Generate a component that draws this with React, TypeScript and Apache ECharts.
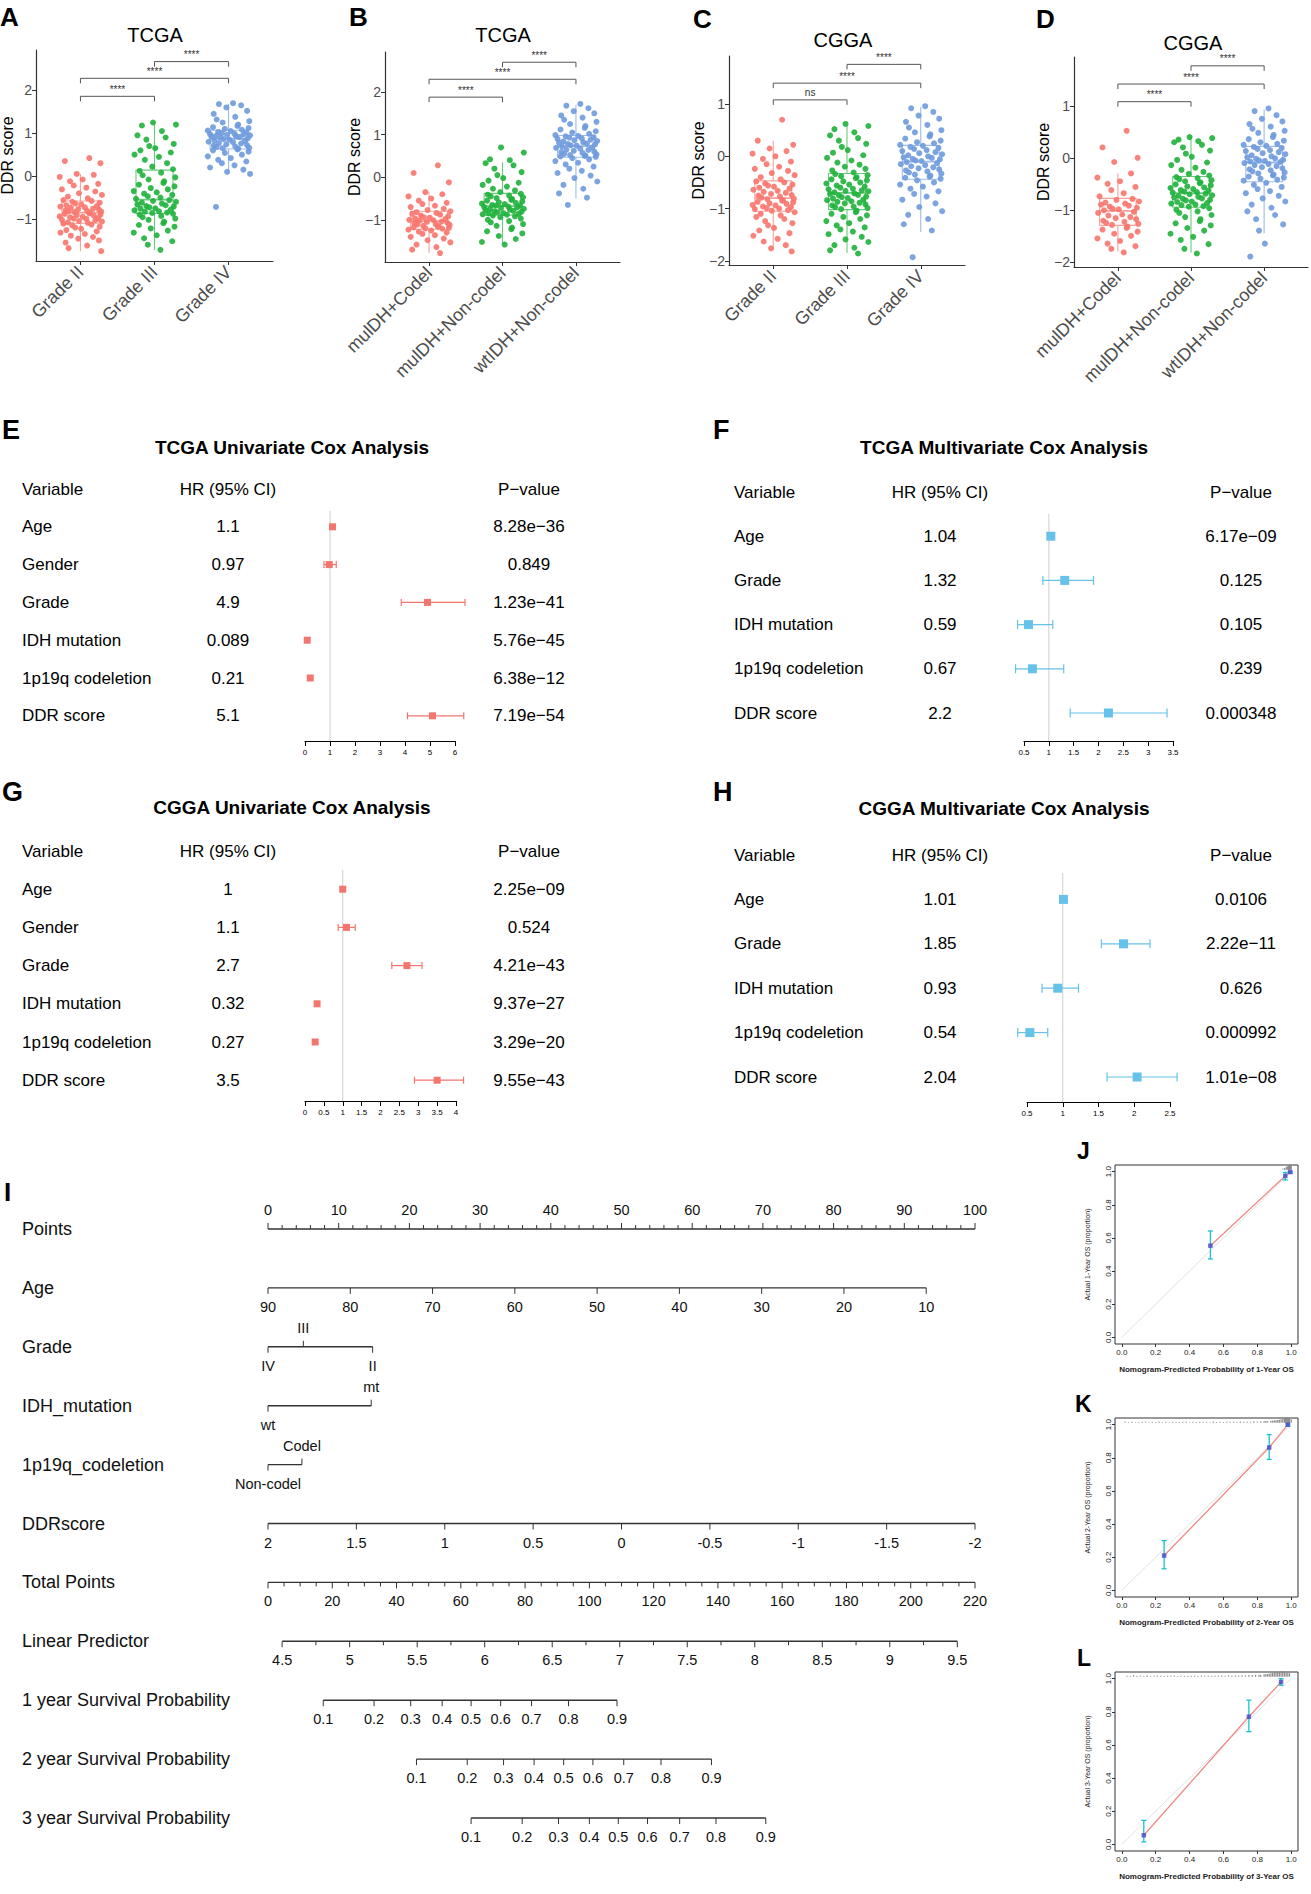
import React, { useEffect, useRef } from "react";
import * as echarts from "echarts";

const FONT = "'Liberation Sans', Arial, Helvetica, sans-serif";

/* ================= A–D : DDR score by group ================= */
const GRADE_CATEGORIES = ["Grade II", "Grade III", "Grade IV"];
const SUBTYPE_CATEGORIES = ["mulDH+Codel", "mulDH+Non-codel", "wtIDH+Non-codel"];
const GROUP_COLORS = ["#F8766D", "#1FB13C", "#6E9ADD"];
const BOX_LINE_COLORS = ["#F7A29B", "#6ACB7C", "#9CBBE9"];
const TICKS_TCGA = [-1, 0, 1, 2];
const TICKS_CGGA = [-2, -1, 0, 1];
const JITTER = [0.12, -0.21, 0.27, -0.05, 0.18, -0.28, 0.03, -0.14, 0.24, -0.09, 0.08, -0.25, 0.2, -0.02, 0.29, -0.17, 0.1, -0.23, 0.15, -0.11, 0.26, -0.07, 0.01, -0.19, 0.22, -0.27, 0.06, -0.13, 0.17, -0.03, 0.25, -0.2, 0.09, -0.16, 0.28, -0.08, 0.13];

// A: TCGA by grade
const TCGA_GRADE_II = [0.42, 0.35, 0.3, 0.05, 0.03, -0.02, -0.08, -0.12, -0.18, -0.22, -0.27, -0.31, -0.36, -0.4, -0.44, -0.48, -0.52, -0.56, -0.58, -0.6, -0.62, -0.64, -0.66, -0.68, -0.7, -0.71, -0.73, -0.74, -0.76, -0.77, -0.78, -0.8, -0.81, -0.82, -0.83, -0.84, -0.86, -0.87, -0.88, -0.9, -0.91, -0.92, -0.94, -0.95, -0.96, -0.98, -0.99, -1.0, -1.02, -1.03, -1.05, -1.06, -1.08, -1.09, -1.11, -1.13, -1.15, -1.18, -1.2, -1.23, -1.26, -1.29, -1.32, -1.35, -1.39, -1.42, -1.46, -1.5, -1.55, -1.62, -1.68, -1.75];
const TCGA_GRADE_III = [1.25, 1.2, 1.18, 1.05, 0.95, 0.9, 0.85, 0.75, 0.7, 0.65, 0.6, 0.55, 0.5, 0.45, 0.38, 0.3, 0.22, 0.16, 0.12, 0.08, 0.02, -0.03, -0.08, -0.12, -0.16, -0.2, -0.24, -0.28, -0.31, -0.35, -0.38, -0.41, -0.44, -0.47, -0.5, -0.53, -0.56, -0.58, -0.6, -0.62, -0.64, -0.66, -0.68, -0.7, -0.71, -0.73, -0.75, -0.76, -0.78, -0.8, -0.82, -0.83, -0.85, -0.86, -0.88, -0.9, -0.93, -0.96, -0.99, -1.02, -1.06, -1.1, -1.14, -1.18, -1.22, -1.27, -1.32, -1.38, -1.45, -1.52, -1.6, -1.72];
const TCGA_GRADE_IV = [1.7, 1.68, 1.65, 1.6, 1.52, 1.45, 1.38, 1.32, 1.28, 1.25, 1.2, 1.17, 1.14, 1.12, 1.1, 1.08, 1.06, 1.05, 1.03, 1.02, 1.0, 0.99, 0.98, 0.97, 0.96, 0.95, 0.94, 0.93, 0.92, 0.91, 0.9, 0.88, 0.86, 0.85, 0.83, 0.82, 0.8, 0.79, 0.77, 0.76, 0.74, 0.72, 0.71, 0.69, 0.68, 0.66, 0.65, 0.64, 0.62, 0.6, 0.57, 0.54, 0.5, 0.46, 0.42, 0.38, 0.34, 0.3, 0.25, 0.2, 0.15, 0.1, 0.05, -0.72];
// B: TCGA by subtype
const TCGA_SUB_CODEL = [0.28, 0.1, -0.12, -0.35, -0.4, -0.45, -0.5, -0.55, -0.6, -0.63, -0.67, -0.7, -0.74, -0.77, -0.8, -0.82, -0.84, -0.86, -0.88, -0.9, -0.92, -0.94, -0.95, -0.97, -0.98, -1.0, -1.01, -1.02, -1.04, -1.05, -1.07, -1.08, -1.1, -1.11, -1.12, -1.14, -1.15, -1.16, -1.18, -1.19, -1.2, -1.21, -1.23, -1.25, -1.28, -1.3, -1.33, -1.36, -1.4, -1.44, -1.48, -1.53, -1.58, -1.64, -1.7, -1.78];
const TCGA_SUB_MUT_NONCODEL = [0.7, 0.58, 0.42, 0.4, 0.33, 0.28, 0.2, 0.12, 0.05, -0.02, -0.08, -0.13, -0.18, -0.22, -0.27, -0.31, -0.35, -0.39, -0.41, -0.43, -0.45, -0.47, -0.49, -0.51, -0.53, -0.55, -0.57, -0.59, -0.6, -0.62, -0.63, -0.65, -0.66, -0.67, -0.69, -0.7, -0.71, -0.72, -0.74, -0.75, -0.76, -0.77, -0.79, -0.8, -0.81, -0.82, -0.84, -0.85, -0.86, -0.87, -0.88, -0.9, -0.92, -0.94, -0.97, -1.0, -1.03, -1.06, -1.1, -1.14, -1.18, -1.22, -1.27, -1.32, -1.38, -1.45, -1.52, -1.58];
const TCGA_SUB_WT_NONCODEL = [1.72, 1.68, 1.62, 1.55, 1.5, 1.45, 1.4, 1.35, 1.3, 1.25, 1.2, 1.16, 1.12, 1.08, 1.05, 1.02, 0.99, 0.97, 0.96, 0.94, 0.93, 0.91, 0.9, 0.88, 0.87, 0.85, 0.84, 0.82, 0.81, 0.79, 0.78, 0.77, 0.75, 0.74, 0.72, 0.7, 0.69, 0.67, 0.65, 0.64, 0.62, 0.6, 0.59, 0.57, 0.55, 0.54, 0.52, 0.51, 0.5, 0.49, 0.48, 0.45, 0.42, 0.38, 0.34, 0.3, 0.25, 0.2, 0.15, 0.1, 0.04, -0.02, -0.1, -0.18, -0.27, -0.38, -0.48, -0.65];
// C: CGGA by grade
const CGGA_GRADE_II = [0.7, 0.3, 0.22, 0.15, 0.1, 0.05, 0.0, -0.05, -0.1, -0.15, -0.2, -0.24, -0.28, -0.32, -0.36, -0.4, -0.44, -0.48, -0.5, -0.52, -0.54, -0.56, -0.58, -0.6, -0.62, -0.64, -0.66, -0.68, -0.7, -0.72, -0.74, -0.75, -0.77, -0.79, -0.81, -0.82, -0.84, -0.85, -0.87, -0.88, -0.9, -0.91, -0.93, -0.94, -0.96, -0.97, -0.99, -1.0, -1.01, -1.03, -1.04, -1.07, -1.1, -1.13, -1.16, -1.2, -1.24, -1.28, -1.32, -1.37, -1.42, -1.47, -1.52, -1.58, -1.63, -1.7, -1.76, -1.82];
const CGGA_GRADE_III = [0.62, 0.58, 0.52, 0.46, 0.4, 0.35, 0.3, 0.24, 0.18, 0.12, 0.07, 0.02, -0.03, -0.08, -0.12, -0.16, -0.2, -0.24, -0.27, -0.31, -0.34, -0.36, -0.38, -0.4, -0.42, -0.44, -0.46, -0.48, -0.5, -0.52, -0.54, -0.56, -0.58, -0.6, -0.62, -0.63, -0.65, -0.66, -0.67, -0.69, -0.71, -0.72, -0.74, -0.75, -0.77, -0.78, -0.8, -0.81, -0.83, -0.84, -0.86, -0.87, -0.89, -0.9, -0.92, -0.94, -0.96, -0.97, -0.99, -1.01, -1.04, -1.07, -1.1, -1.13, -1.16, -1.2, -1.24, -1.28, -1.32, -1.36, -1.4, -1.44, -1.49, -1.54, -1.59, -1.64, -1.7, -1.75, -1.8, -1.86];
const CGGA_GRADE_IV = [0.96, 0.92, 0.85, 0.78, 0.72, 0.66, 0.6, 0.55, 0.5, 0.46, 0.42, 0.38, 0.34, 0.3, 0.27, 0.25, 0.22, 0.2, 0.18, 0.16, 0.14, 0.12, 0.1, 0.08, 0.06, 0.04, 0.02, 0.0, -0.02, -0.03, -0.05, -0.06, -0.08, -0.09, -0.11, -0.13, -0.15, -0.17, -0.19, -0.21, -0.23, -0.25, -0.27, -0.29, -0.31, -0.33, -0.35, -0.37, -0.39, -0.41, -0.43, -0.46, -0.5, -0.54, -0.58, -0.62, -0.67, -0.72, -0.77, -0.83, -0.9, -0.97, -1.05, -1.12, -1.2, -1.3, -1.42, -1.93];
// D: CGGA by subtype
const CGGA_SUB_CODEL = [0.52, 0.2, 0.0, -0.08, -0.3, -0.38, -0.45, -0.5, -0.56, -0.62, -0.68, -0.74, -0.79, -0.81, -0.84, -0.86, -0.88, -0.9, -0.92, -0.94, -0.96, -0.98, -0.99, -1.01, -1.04, -1.06, -1.09, -1.11, -1.14, -1.16, -1.18, -1.21, -1.23, -1.25, -1.27, -1.29, -1.32, -1.35, -1.38, -1.42, -1.46, -1.5, -1.55, -1.6, -1.65, -1.7, -1.75, -1.82];
const CGGA_SUB_MUT_NONCODEL = [0.4, 0.38, 0.35, 0.32, 0.3, 0.25, 0.2, 0.14, 0.08, 0.02, -0.04, -0.09, -0.14, -0.19, -0.23, -0.27, -0.31, -0.34, -0.37, -0.39, -0.41, -0.43, -0.45, -0.47, -0.49, -0.51, -0.53, -0.55, -0.57, -0.58, -0.6, -0.62, -0.63, -0.65, -0.66, -0.67, -0.69, -0.7, -0.72, -0.73, -0.75, -0.76, -0.78, -0.79, -0.81, -0.82, -0.84, -0.85, -0.87, -0.88, -0.9, -0.91, -0.93, -0.94, -0.97, -1.0, -1.03, -1.06, -1.1, -1.14, -1.18, -1.22, -1.26, -1.3, -1.35, -1.4, -1.46, -1.52, -1.58, -1.66, -1.75, -1.84];
const CGGA_SUB_WT_NONCODEL = [0.95, 0.9, 0.82, 0.75, 0.7, 0.65, 0.6, 0.56, 0.52, 0.48, 0.44, 0.4, 0.36, 0.33, 0.3, 0.27, 0.25, 0.23, 0.21, 0.19, 0.17, 0.15, 0.13, 0.11, 0.09, 0.07, 0.05, 0.03, 0.01, -0.01, -0.02, -0.04, -0.05, -0.06, -0.07, -0.08, -0.1, -0.12, -0.14, -0.16, -0.18, -0.2, -0.22, -0.24, -0.26, -0.28, -0.3, -0.32, -0.34, -0.36, -0.38, -0.4, -0.42, -0.44, -0.48, -0.52, -0.56, -0.6, -0.64, -0.68, -0.73, -0.78, -0.84, -0.9, -0.96, -1.03, -1.1, -1.18, -1.28, -1.4, -1.65, -1.9];

// box stats: [lower whisker, Q1, median, Q3, upper whisker]
const TCGA_GRADE_BOX = [[-1.75, -1.1, -0.85, -0.58, 0.05], [-1.72, -0.87, -0.55, 0.14, 1.22], [0.05, 0.63, 0.87, 1.07, 1.68]];
const TCGA_SUB_BOX = [[-1.78, -1.22, -1.03, -0.8, -0.35], [-1.55, -0.89, -0.68, -0.38, 0.35], [-0.5, 0.47, 0.73, 0.98, 1.7]];
const CGGA_GRADE_BOX = [[-1.8, -1.05, -0.8, -0.47, 0.3], [-1.85, -1.02, -0.7, -0.33, 0.6], [-1.45, -0.44, -0.1, 0.21, 0.95]];
const CGGA_SUB_BOX = [[-1.8, -1.3, -1.02, -0.78, -0.3], [-1.82, -0.95, -0.68, -0.36, 0.4], [-1.45, -0.46, -0.09, 0.22, 0.93]];

// significance brackets: [from group, to group, height]
const TCGA_GRADE_BRACKETS = [[1, 2, 1.86], [1, 3, 2.28], [2, 3, 2.67]];
const TCGA_SUB_BRACKETS = [[1, 2, 1.88], [1, 3, 2.3], [2, 3, 2.7]];
const CGGA_GRADE_BRACKETS = [[1, 2, 1.08], [1, 3, 1.4], [2, 3, 1.76]];
const CGGA_SUB_BRACKETS = [[1, 2, 1.08], [1, 3, 1.42], [2, 3, 1.77]];
const TCGA_GRADE_SIG = ["****", "****", "****"];
const TCGA_SUB_SIG = ["****", "****", "****"];
const CGGA_GRADE_SIG = ["ns", "****", "****"];
const CGGA_SUB_SIG = ["****", "****", "****"];

/* ================= E–H : Cox forest plots ================= */
const UNI_VARS = ["Age", "Gender", "Grade", "IDH mutation", "1p19q codeletion", "DDR score"];
const MULTI_VARS = ["Age", "Grade", "IDH mutation", "1p19q codeletion", "DDR score"];
const TABLE_HEADER = ["Variable", "HR (95% CI)", "P\u2212value"];

const TCGA_UNI_HR_TEXT = ["1.1", "0.97", "4.9", "0.089", "0.21", "5.1"];
const TCGA_UNI_HR = [1.1, 0.97, 4.9, 0.089, 0.21, 5.1];
const TCGA_UNI_LO = [1.08, 0.76, 3.85, 0.065, 0.16, 4.1];
const TCGA_UNI_HI = [1.12, 1.25, 6.4, 0.12, 0.28, 6.35];
const TCGA_UNI_P = ["8.28e\u221236", "0.849", "1.23e\u221241", "5.76e\u221245", "6.38e\u221212", "7.19e\u221254"];
const TCGA_UNI_AXIS = [0, 6, 1];

const TCGA_MULTI_HR_TEXT = ["1.04", "1.32", "0.59", "0.67", "2.2"];
const TCGA_MULTI_HR = [1.04, 1.32, 0.59, 0.67, 2.2];
const TCGA_MULTI_LO = [1.03, 0.88, 0.37, 0.33, 1.43];
const TCGA_MULTI_HI = [1.05, 1.9, 1.08, 1.3, 3.38];
const TCGA_MULTI_P = ["6.17e\u221209", "0.125", "0.105", "0.239", "0.000348"];
const TCGA_MULTI_AXIS = [0.5, 3.5, 0.5];

const CGGA_UNI_HR_TEXT = ["1", "1.1", "2.7", "0.32", "0.27", "3.5"];
const CGGA_UNI_HR = [1.0, 1.1, 2.7, 0.32, 0.27, 3.5];
const CGGA_UNI_LO = [0.99, 0.88, 2.3, 0.27, 0.22, 2.9];
const CGGA_UNI_HI = [1.01, 1.33, 3.1, 0.38, 0.33, 4.2];
const CGGA_UNI_P = ["2.25e\u221209", "0.524", "4.21e\u221243", "9.37e\u221227", "3.29e\u221220", "9.55e\u221243"];
const CGGA_UNI_AXIS = [0, 4, 0.5];

const CGGA_MULTI_HR_TEXT = ["1.01", "1.85", "0.93", "0.54", "2.04"];
const CGGA_MULTI_HR = [1.01, 1.85, 0.93, 0.54, 2.04];
const CGGA_MULTI_LO = [1.0, 1.54, 0.71, 0.37, 1.62];
const CGGA_MULTI_HI = [1.02, 2.22, 1.22, 0.79, 2.6];
const CGGA_MULTI_P = ["0.0106", "2.22e\u221211", "0.626", "0.000992", "1.01e\u221208"];
const CGGA_MULTI_AXIS = [0.5, 2.5, 0.5];

/* ================= I : nomogram ================= */
const NOMO_LABELS = ["Points", "Age", "Grade", "IDH_mutation", "1p19q_codeletion", "DDRscore", "Total Points", "Linear Predictor", "1 year Survival Probability", "2 year Survival Probability", "3 year Survival Probability"];
const POINTS_TICKS = [0, 10, 20, 30, 40, 50, 60, 70, 80, 90, 100];
const AGE_TICKS = [90, 80, 70, 60, 50, 40, 30, 20, 10];
const AGE_RANGE = [90, 10];
const AGE_POINTS = [0, 93.1];
const GRADE_LEVELS = ["IV", "III", "II"];
const GRADE_POINTS = [0, 5.0, 14.8];
const GRADE_ABOVE = [false, true, false];
const IDH_LEVELS = ["wt", "mt"];
const IDH_POINTS = [0, 14.6];
const IDH_ABOVE = [false, true];
const CODEL_LEVELS = ["Non-codel", "Codel"];
const CODEL_POINTS = [0, 4.8];
const CODEL_ABOVE = [false, true];
const DDR_TICKS = [2, 1.5, 1, 0.5, 0, -0.5, -1, -1.5, -2];
const DDR_RANGE = [2, -2];
const DDR_POINTS = [0, 100];
const TOTAL_TICKS = [0, 20, 40, 60, 80, 100, 120, 140, 160, 180, 200, 220];
const TOTAL_MAX = 220;
const LP_TICKS = [4.5, 5, 5.5, 6, 6.5, 7, 7.5, 8, 8.5, 9, 9.5];
const LP_RANGE = [4.5, 9.5];
const LP_TOTAL = [4.4, 214.5];
const SURV_TICKS = [0.1, 0.2, 0.3, 0.4, 0.5, 0.6, 0.7, 0.8, 0.9];
const SURV1_TOTAL = [17.2, 33, 44.4, 54.2, 63.2, 72.4, 82, 93.5, 108.6];
const SURV2_TOTAL = [46.2, 62, 73.3, 82.8, 92, 101.1, 110.7, 122.3, 138];
const SURV3_TOTAL = [63.2, 79.1, 90.4, 100, 109, 118.1, 128.1, 139.4, 154.9];

/* ================= J–L : calibration ================= */
const CAL_TICKS = [0, 0.2, 0.4, 0.6, 0.8, 1.0];
const CAL1_PRED = [0.523, 0.965, 0.994];
const CAL1_OBS = [0.553, 0.974, 0.998];
const CAL1_LO = [0.473, 0.95, 0.99];
const CAL1_HI = [0.642, 0.995, 1.0];
const CAL1_RUG = [[0.95, 0.006], [0.96, 0.01], [0.97, 0.014], [0.975, 0.018], [0.98, 0.022], [0.985, 0.026], [0.99, 0.03], [0.995, 0.03], [1.0, 0.03]];
const CAL2_PRED = [0.25, 0.87, 0.98];
const CAL2_OBS = [0.21, 0.862, 1.0];
const CAL2_LO = [0.13, 0.79, 0.99];
const CAL2_HI = [0.3, 0.94, 1.005];
const CAL2_RUG = [[0.02, 0.005], [0.04, 0.004], [0.06, 0.006], [0.08, 0.003], [0.1, 0.004], [0.12, 0.005], [0.14, 0.006], [0.16, 0.003], [0.18, 0.005], [0.2, 0.004], [0.22, 0.007], [0.24, 0.004], [0.26, 0.005], [0.28, 0.003], [0.3, 0.006], [0.32, 0.004], [0.34, 0.004], [0.36, 0.005], [0.38, 0.006], [0.4, 0.003], [0.42, 0.005], [0.44, 0.004], [0.46, 0.006], [0.48, 0.004], [0.5, 0.005], [0.52, 0.003], [0.54, 0.007], [0.56, 0.004], [0.58, 0.005], [0.6, 0.004], [0.62, 0.006], [0.64, 0.005], [0.66, 0.006], [0.68, 0.004], [0.7, 0.007], [0.72, 0.005], [0.74, 0.006], [0.76, 0.005], [0.78, 0.008], [0.8, 0.006], [0.82, 0.008], [0.84, 0.009], [0.85, 0.01], [0.86, 0.009], [0.88, 0.012], [0.89, 0.011], [0.9, 0.014], [0.91, 0.015], [0.92, 0.016], [0.93, 0.018], [0.94, 0.02], [0.95, 0.024], [0.96, 0.028], [0.965, 0.03], [0.97, 0.03], [0.975, 0.032], [0.98, 0.03], [0.985, 0.03], [0.99, 0.028], [1.0, 0.02]];
const CAL3_PRED = [0.13, 0.75, 0.94];
const CAL3_OBS = [0.055, 0.77, 0.98];
const CAL3_LO = [0.015, 0.68, 0.96];
const CAL3_HI = [0.145, 0.87, 1.0];
const CAL3_RUG = [[0.03, 0.006], [0.05, 0.004], [0.07, 0.008], [0.09, 0.005], [0.11, 0.006], [0.13, 0.004], [0.15, 0.007], [0.17, 0.004], [0.19, 0.005], [0.21, 0.006], [0.23, 0.006], [0.25, 0.004], [0.27, 0.006], [0.29, 0.005], [0.31, 0.005], [0.33, 0.004], [0.35, 0.006], [0.37, 0.005], [0.39, 0.005], [0.41, 0.006], [0.43, 0.006], [0.45, 0.004], [0.47, 0.007], [0.49, 0.005], [0.51, 0.006], [0.53, 0.005], [0.55, 0.006], [0.57, 0.006], [0.59, 0.007], [0.61, 0.006], [0.63, 0.008], [0.65, 0.006], [0.67, 0.007], [0.69, 0.007], [0.71, 0.008], [0.73, 0.008], [0.75, 0.01], [0.77, 0.01], [0.79, 0.012], [0.81, 0.011], [0.82, 0.012], [0.84, 0.014], [0.85, 0.015], [0.86, 0.016], [0.87, 0.018], [0.88, 0.02], [0.89, 0.022], [0.9, 0.025], [0.91, 0.028], [0.92, 0.03], [0.93, 0.03], [0.94, 0.032], [0.95, 0.03], [0.96, 0.028], [0.97, 0.025], [0.98, 0.022], [0.99, 0.02]];

/* ================= layout ================= */
const BOX_PANELS = [
  { letter: "A", lx: 0, ly: 4, title: "TCGA", tx: 155, ty: 35, cats: GRADE_CATEGORIES, values: [TCGA_GRADE_II, TCGA_GRADE_III, TCGA_GRADE_IV], box: TCGA_GRADE_BOX, brackets: TCGA_GRADE_BRACKETS, sig: TCGA_GRADE_SIG, ticks: TICKS_TCGA, yMin: -1.98, yMax: 2.94, left: 36, top: 50, width: 237, height: 211, nameGap: 21 },
  { letter: "B", lx: 349, ly: 4, title: "TCGA", tx: 503, ty: 35, cats: SUBTYPE_CATEGORIES, values: [TCGA_SUB_CODEL, TCGA_SUB_MUT_NONCODEL, TCGA_SUB_WT_NONCODEL], box: TCGA_SUB_BOX, brackets: TCGA_SUB_BRACKETS, sig: TCGA_SUB_SIG, ticks: TICKS_TCGA, yMin: -1.99, yMax: 2.94, left: 385, top: 52, width: 235, height: 210, nameGap: 23 },
  { letter: "C", lx: 693, ly: 6, title: "CGGA", tx: 843, ty: 40, cats: GRADE_CATEGORIES, values: [CGGA_GRADE_II, CGGA_GRADE_III, CGGA_GRADE_IV], box: CGGA_GRADE_BOX, brackets: CGGA_GRADE_BRACKETS, sig: CGGA_GRADE_SIG, ticks: TICKS_CGGA, yMin: -2.08, yMax: 1.92, left: 729, top: 56, width: 236, height: 209, nameGap: 23 },
  { letter: "D", lx: 1036, ly: 6, title: "CGGA", tx: 1193, ty: 43, cats: SUBTYPE_CATEGORIES, values: [CGGA_SUB_CODEL, CGGA_SUB_MUT_NONCODEL, CGGA_SUB_WT_NONCODEL], box: CGGA_SUB_BOX, brackets: CGGA_SUB_BRACKETS, sig: CGGA_SUB_SIG, ticks: TICKS_CGGA, yMin: -2.1, yMax: 1.94, left: 1074, top: 57, width: 234, height: 210, nameGap: 23 },
];

const FOREST_PANELS = [
  { letter: "E", lx: 2, ly: 416, title: "TCGA Univariate Cox Analysis", tx: 292, ty: 447, vars: UNI_VARS, hrText: TCGA_UNI_HR_TEXT, hr: TCGA_UNI_HR, lo: TCGA_UNI_LO, hi: TCGA_UNI_HI, p: TCGA_UNI_P, axis: TCGA_UNI_AXIS, color: "#F3766E", size: 7, cap: 3.5, left: 305, right: 455, headerY: 489, step: 37.8, refTop: 511, axisY: 741, colVar: 22, colHr: 228, colP: 529 },
  { letter: "F", lx: 713, ly: 416, title: "TCGA Multivariate Cox Analysis", tx: 1004, ty: 447, vars: MULTI_VARS, hrText: TCGA_MULTI_HR_TEXT, hr: TCGA_MULTI_HR, lo: TCGA_MULTI_LO, hi: TCGA_MULTI_HI, p: TCGA_MULTI_P, axis: TCGA_MULTI_AXIS, color: "#66C2E8", size: 9, cap: 4.5, left: 1024, right: 1173, headerY: 492, step: 44.2, refTop: 514, axisY: 741, colVar: 734, colHr: 940, colP: 1241 },
  { letter: "G", lx: 2, ly: 778, title: "CGGA Univariate Cox Analysis", tx: 292, ty: 807, vars: UNI_VARS, hrText: CGGA_UNI_HR_TEXT, hr: CGGA_UNI_HR, lo: CGGA_UNI_LO, hi: CGGA_UNI_HI, p: CGGA_UNI_P, axis: CGGA_UNI_AXIS, color: "#F3766E", size: 7, cap: 3.5, left: 305, right: 456, headerY: 851, step: 38.2, refTop: 870, axisY: 1101, colVar: 22, colHr: 228, colP: 529 },
  { letter: "H", lx: 713, ly: 778, title: "CGGA Multivariate Cox Analysis", tx: 1004, ty: 808, vars: MULTI_VARS, hrText: CGGA_MULTI_HR_TEXT, hr: CGGA_MULTI_HR, lo: CGGA_MULTI_LO, hi: CGGA_MULTI_HI, p: CGGA_MULTI_P, axis: CGGA_MULTI_AXIS, color: "#66C2E8", size: 9, cap: 4.5, left: 1027, right: 1170, headerY: 855, step: 44.4, refTop: 873, axisY: 1102, colVar: 734, colHr: 940, colP: 1241 },
];

const CAL_PANELS = [
  { letter: "J", lx: 1077, ly: 1139, top: 1165, n: 1, pred: CAL1_PRED, obs: CAL1_OBS, lo: CAL1_LO, hi: CAL1_HI, rug: CAL1_RUG },
  { letter: "K", lx: 1075, ly: 1392, top: 1418, n: 2, pred: CAL2_PRED, obs: CAL2_OBS, lo: CAL2_LO, hi: CAL2_HI, rug: CAL2_RUG },
  { letter: "L", lx: 1077, ly: 1646, top: 1672, n: 3, pred: CAL3_PRED, obs: CAL3_OBS, lo: CAL3_LO, hi: CAL3_HI, rug: CAL3_RUG },
];

const minusFmt = (v: number) => (v < 0 ? "\u2212" + String(Math.abs(v)) : String(v));

function txt(x: number, y: number, text: string, size: number, align = "center", va = "middle", color = "#000", weight = "normal") {
  return {
    type: "text",
    x,
    y,
    silent: true,
    style: { text, fontSize: size, fontFamily: FONT, fontWeight: weight, fill: color, textAlign: align, textVerticalAlign: va, align, verticalAlign: va },
  };
}

function nomogramRows() {
  const lin = (v: number, r: number[], p: number[]) => p[0] + ((v - r[0]) / (r[1] - r[0])) * (p[1] - p[0]);
  const tp = (t: number) => (t * 100) / TOTAL_MAX;
  const rows: any[] = [];
  const pts: any[] = POINTS_TICKS.map((v) => ({ pos: v, label: String(v), up: true, len: 6 }));
  for (let k = 0; k <= 100; k += 2) if (k % 10 !== 0) pts.push({ pos: k, up: true, len: 4 });
  rows.push(pts);
  rows.push(AGE_TICKS.map((v) => ({ pos: lin(v, AGE_RANGE, AGE_POINTS), label: String(v), up: false, len: 6 })));
  rows.push(GRADE_LEVELS.map((l, i) => ({ pos: GRADE_POINTS[i], label: l, up: GRADE_ABOVE[i], len: 6 })));
  rows.push(IDH_LEVELS.map((l, i) => ({ pos: IDH_POINTS[i], label: l, up: IDH_ABOVE[i], len: 6 })));
  rows.push(CODEL_LEVELS.map((l, i) => ({ pos: CODEL_POINTS[i], label: l, up: CODEL_ABOVE[i], len: 6 })));
  rows.push(DDR_TICKS.map((v) => ({ pos: lin(v, DDR_RANGE, DDR_POINTS), label: String(v), up: false, len: 6 })));
  const tot: any[] = TOTAL_TICKS.map((v) => ({ pos: tp(v), label: String(v), up: false, len: 6 }));
  for (let k = 0; k <= TOTAL_MAX; k += 5) if (k % 20 !== 0) tot.push({ pos: tp(k), up: false, len: 4 });
  rows.push(tot);
  const lp: any[] = LP_TICKS.map((v) => ({ pos: tp(lin(v, LP_RANGE, LP_TOTAL)), label: String(v), up: false, len: 6 }));
  for (let k = 0; k < LP_TICKS.length - 1; k++) {
    const mid = (LP_TICKS[k] + LP_TICKS[k + 1]) / 2;
    lp.push({ pos: tp(lin(mid, LP_RANGE, LP_TOTAL)), up: false, len: 4 });
  }
  rows.push(lp);
  [SURV1_TOTAL, SURV2_TOTAL, SURV3_TOTAL].forEach((arr) => rows.push(SURV_TICKS.map((v, i) => ({ pos: tp(arr[i]), label: String(v), up: false, len: 6 }))));
  return rows;
}

function buildOption() {
  const grid: any[] = [];
  const xAxis: any[] = [];
  const yAxis: any[] = [];
  const series: any[] = [];
  const graphic: any[] = [];
  const addGrid = (g: any, x: any, y: any) => {
    grid.push({ containLabel: false, outerBoundsMode: "none", ...g });
    const i = grid.length - 1;
    xAxis.push({ ...x, gridIndex: i });
    yAxis.push({ ...y, gridIndex: i });
    return i;
  };

  /* ---- A–D ---- */
  BOX_PANELS.forEach((p) => {
    graphic.push(txt(p.lx, p.ly, p.letter, 26, "left", "top", "#000", "bold"));
    graphic.push(txt(p.tx, p.ty, p.title, 20, "center", "middle"));
    const gi = addGrid(
      { left: p.left, top: p.top, width: p.width, height: p.height },
      {
        type: "value", min: 0.4, max: 3.6, splitLine: { show: false },
        axisLine: { show: true, onZero: false, lineStyle: { color: "#333", width: 1.2 } },
        axisTick: { show: true, customValues: [1, 2, 3], length: 4, lineStyle: { color: "#333" } },
        axisLabel: { customValues: [1, 2, 3], formatter: (v: number) => p.cats[Math.round(v) - 1], rotate: 45, fontSize: 18, color: "#4D4D4D", margin: 8, fontFamily: FONT },
      },
      {
        type: "value", min: p.yMin, max: p.yMax, splitLine: { show: false },
        name: "DDR score", nameLocation: "middle", nameGap: p.nameGap, nameMoveOverlap: false, nameTextStyle: { fontSize: 16, color: "#000", fontFamily: FONT },
        axisLine: { show: true, onZero: false, lineStyle: { color: "#333", width: 1.2 } },
        axisTick: { show: true, customValues: p.ticks, length: 4, lineStyle: { color: "#333" } },
        axisLabel: { customValues: p.ticks, formatter: minusFmt, fontSize: 14, color: "#4D4D4D", margin: 4, fontFamily: FONT },
      }
    );
    series.push({
      type: "custom", xAxisIndex: gi, yAxisIndex: gi, silent: true, clip: false, z: 2,
      data: p.box.map((b, i) => [i + 1, ...b]),
      renderItem: (params: any, api: any) => {
        const x = api.value(0);
        const c = BOX_LINE_COLORS[params.dataIndex];
        const [xl, yLo] = api.coord([x - 0.25, api.value(1)]);
        const [xr, yQ1] = api.coord([x + 0.25, api.value(2)]);
        const [cx, yMed] = api.coord([x, api.value(3)]);
        const yQ3 = api.coord([x, api.value(4)])[1];
        const yHi = api.coord([x, api.value(5)])[1];
        const ls = { stroke: c, lineWidth: 1.1, fill: "none" };
        return {
          type: "group",
          children: [
            { type: "line", shape: { x1: cx, y1: yHi, x2: cx, y2: yQ3 }, style: ls },
            { type: "line", shape: { x1: cx, y1: yQ1, x2: cx, y2: yLo }, style: ls },
            { type: "rect", shape: { x: xl, y: yQ3, width: xr - xl, height: yQ1 - yQ3 }, style: ls },
            { type: "line", shape: { x1: xl, y1: yMed, x2: xr, y2: yMed }, style: { stroke: c, lineWidth: 1.8 } },
          ],
        };
      },
    });
    p.values.forEach((vals, g) => {
      series.push({
        type: "scatter", xAxisIndex: gi, yAxisIndex: gi, silent: true, z: 3, symbolSize: 6,
        itemStyle: { color: GROUP_COLORS[g], opacity: 0.9 },
        data: vals.map((v, k) => [g + 1 + JITTER[(k + g * 13) % JITTER.length], v]),
      });
    });
    series.push({
      type: "custom", xAxisIndex: gi, yAxisIndex: gi, silent: true, clip: false, z: 4,
      data: p.brackets,
      renderItem: (params: any, api: any) => {
        const a = api.coord([api.value(0), api.value(2)]);
        const b = api.coord([api.value(1), api.value(2)]);
        return {
          type: "group",
          children: [
            { type: "polyline", shape: { points: [[a[0], a[1] + 5], [a[0], a[1]], [b[0], b[1]], [b[0], b[1] + 5]] }, style: { stroke: "#555", lineWidth: 1, fill: "none" } },
            txt((a[0] + b[0]) / 2, a[1] - 2, p.sig[params.dataIndex], 10, "center", "bottom", "#333"),
          ],
        };
      },
    });
  });

  /* ---- E–H ---- */
  FOREST_PANELS.forEach((f) => {
    graphic.push(txt(f.lx, f.ly, f.letter, 27, "left", "top", "#000", "bold"));
    graphic.push(txt(f.tx, f.ty, f.title, 19, "center", "middle", "#000", "bold"));
    const yMin = (f.refTop - f.headerY) / f.step;
    const yMax = (f.axisY - f.headerY) / f.step;
    const gi = addGrid(
      { left: f.left, top: f.refTop, width: f.right - f.left, height: f.axisY - f.refTop },
      {
        type: "value", min: f.axis[0], max: f.axis[1], interval: f.axis[2], splitLine: { show: false },
        axisLine: { show: true, onZero: false, lineStyle: { color: "#000", width: 1.2 } },
        axisTick: { show: true, length: 5, lineStyle: { color: "#000" } },
        axisLabel: { fontSize: 8, color: "#000", margin: 7, showMinLabel: true, showMaxLabel: true, fontFamily: FONT },
      },
      { type: "value", inverse: true, min: yMin, max: yMax, show: false }
    );
    series.push({
      type: "line", xAxisIndex: gi, yAxisIndex: gi, silent: true, symbol: "none", z: 1,
      lineStyle: { color: "#CFCFCF", width: 1 },
      data: [[1, yMin], [1, yMax]],
    });
    series.push({
      type: "custom", xAxisIndex: gi, yAxisIndex: gi, silent: true, clip: false, z: 3,
      data: f.hr.map((h, i) => [h, i + 1, f.lo[i], f.hi[i]]),
      renderItem: (params: any, api: any) => {
        const [cx, cy] = api.coord([api.value(0), api.value(1)]);
        const xl = api.coord([api.value(2), api.value(1)])[0];
        const xr = api.coord([api.value(3), api.value(1)])[0];
        const st = { stroke: f.color, lineWidth: 1.2 };
        const children: any[] = [];
        if (xr - xl > f.size) {
          children.push({ type: "line", shape: { x1: xl, y1: cy, x2: xr, y2: cy }, style: st });
          children.push({ type: "line", shape: { x1: xl, y1: cy - f.cap, x2: xl, y2: cy + f.cap }, style: st });
          children.push({ type: "line", shape: { x1: xr, y1: cy - f.cap, x2: xr, y2: cy + f.cap }, style: st });
        }
        children.push({ type: "rect", shape: { x: cx - f.size / 2, y: cy - f.size / 2, width: f.size, height: f.size }, style: { fill: f.color } });
        return { type: "group", children };
      },
    });
    const rows = [TABLE_HEADER, ...f.vars.map((v, i) => [v, f.hrText[i], f.p[i]])];
    series.push({
      type: "custom", xAxisIndex: gi, yAxisIndex: gi, silent: true, clip: false, z: 3,
      data: rows.map((_, i) => [f.axis[0], i]),
      renderItem: (params: any, api: any) => {
        const y = api.coord([api.value(0), api.value(1)])[1];
        const r = rows[params.dataIndex];
        return {
          type: "group",
          children: [txt(f.colVar, y, r[0], 17, "left"), txt(f.colHr, y, r[1], 17, "center"), txt(f.colP, y, r[2], 17, "center")],
        };
      },
    });
  });

  /* ---- I nomogram ---- */
  graphic.push(txt(4, 1179, "I", 26, "left", "top", "#000", "bold"));
  const NOMO_ROWS = nomogramRows();
  const ni = addGrid(
    { left: 268, top: 1229, width: 707, height: 589 },
    { type: "value", min: 0, max: 100, show: false },
    { type: "value", min: 0, max: NOMO_LABELS.length - 1, inverse: true, show: false }
  );
  series.push({
    type: "custom", xAxisIndex: ni, yAxisIndex: ni, silent: true, clip: false,
    data: NOMO_LABELS.map((_, i) => [0, i]),
    renderItem: (params: any, api: any) => {
      const row = NOMO_ROWS[params.dataIndex];
      const ry = api.value(1);
      const y = api.coord([0, ry])[1];
      const X = (pt: number) => api.coord([pt, ry])[0];
      const poss = row.map((t: any) => t.pos);
      const children: any[] = [
        { type: "line", shape: { x1: X(Math.min(...poss)), y1: y, x2: X(Math.max(...poss)), y2: y }, style: { stroke: "#333", lineWidth: 1.4 } },
        txt(22, y, NOMO_LABELS[params.dataIndex], 18, "left", "middle", "#111"),
      ];
      row.forEach((t: any) => {
        const x = X(t.pos);
        const d = t.up ? -1 : 1;
        children.push({ type: "line", shape: { x1: x, y1: y, x2: x, y2: y + d * t.len }, style: { stroke: "#333", lineWidth: 1 } });
        if (t.label) children.push(txt(x, y + d * 19, t.label, 14.5, "center", "middle", "#111"));
      });
      return { type: "group", children };
    },
  });

  /* ---- J–L calibration ---- */
  CAL_PANELS.forEach((c) => {
    graphic.push(txt(c.lx, c.ly, c.letter, 23, "left", "top", "#000", "bold"));
    const gi = addGrid(
      { left: 1115, top: c.top, width: 183, height: 179, show: true, borderColor: "#333", borderWidth: 1, backgroundColor: "transparent" },
      {
        type: "value", min: -0.04, max: 1.04, splitLine: { show: false },
        name: `Nomogram-Predicted Probability of ${c.n}-Year OS`, nameLocation: "middle", nameGap: 21, nameMoveOverlap: false,
        nameTextStyle: { fontSize: 8, fontWeight: "bold", color: "#222", fontFamily: FONT },
        axisLine: { show: false, onZero: false },
        axisTick: { show: true, customValues: CAL_TICKS, length: 3, lineStyle: { color: "#333" } },
        axisLabel: { customValues: CAL_TICKS, formatter: (v: number) => v.toFixed(1), fontSize: 8, color: "#222", margin: 4, fontFamily: FONT },
      },
      {
        type: "value", min: -0.04, max: 1.04, splitLine: { show: false },
        name: `Actual ${c.n}-Year OS (proportion)`, nameLocation: "middle", nameGap: 24, nameMoveOverlap: false,
        nameTextStyle: { fontSize: 7, color: "#222", fontFamily: FONT },
        axisLine: { show: false, onZero: false },
        axisTick: { show: true, customValues: CAL_TICKS, length: 3, lineStyle: { color: "#333" } },
        axisLabel: { customValues: CAL_TICKS, formatter: (v: number) => v.toFixed(1), fontSize: 8, color: "#222", margin: 3, rotate: 90, fontFamily: FONT },
      }
    );
    series.push({ type: "line", xAxisIndex: gi, yAxisIndex: gi, silent: true, symbol: "none", z: 1, lineStyle: { color: "#D9D9D9", width: 0.8 }, data: [[0, 0], [1, 1]] });
    series.push({
      type: "custom", xAxisIndex: gi, yAxisIndex: gi, silent: true, clip: false, z: 1,
      data: c.rug,
      renderItem: (params: any, api: any) => {
        const a = api.coord([api.value(0), 1.012]);
        const b = api.coord([api.value(0), 1.012 + api.value(1)]);
        return { type: "line", shape: { x1: a[0], y1: a[1], x2: b[0], y2: b[1] }, style: { stroke: "#8A8A8A", lineWidth: 1.2 } };
      },
    });
    series.push({ type: "line", xAxisIndex: gi, yAxisIndex: gi, silent: true, symbol: "none", z: 2, lineStyle: { color: "#F08A86", width: 1.3 }, data: c.pred.map((x, i) => [x, c.obs[i]]) });
    series.push({
      type: "custom", xAxisIndex: gi, yAxisIndex: gi, silent: true, clip: false, z: 3,
      data: c.pred.map((x, i) => [x, c.lo[i], c.hi[i]]),
      renderItem: (params: any, api: any) => {
        const a = api.coord([api.value(0), api.value(1)]);
        const b = api.coord([api.value(0), api.value(2)]);
        const st = { stroke: "#17C3CF", lineWidth: 1.3 };
        return {
          type: "group",
          children: [
            { type: "line", shape: { x1: a[0], y1: a[1], x2: b[0], y2: b[1] }, style: st },
            { type: "line", shape: { x1: a[0] - 2.5, y1: a[1], x2: a[0] + 2.5, y2: a[1] }, style: st },
            { type: "line", shape: { x1: b[0] - 2.5, y1: b[1], x2: b[0] + 2.5, y2: b[1] }, style: st },
          ],
        };
      },
    });
    series.push({ type: "scatter", xAxisIndex: gi, yAxisIndex: gi, silent: true, z: 4, symbol: "rect", symbolSize: 4.5, itemStyle: { color: "#4D45C8" }, data: c.pred.map((x, i) => [x, c.obs[i]]) });
  });

  return {
    animation: false,
    backgroundColor: "#ffffff",
    textStyle: { fontFamily: FONT },
    grid,
    xAxis,
    yAxis,
    series,
    graphic,
  };
}

export default function App() {
  const ref = useRef<HTMLDivElement>(null);
  useEffect(() => {
    if (!ref.current) return;
    const chart = echarts.init(ref.current, undefined, { renderer: "svg" });
    chart.setOption(buildOption() as any);
    return () => chart.dispose();
  }, []);
  return <div ref={ref} style={{ position: "absolute", left: 0, top: 0, width: 1311, height: 1894, background: "#fff" }} />;
}
